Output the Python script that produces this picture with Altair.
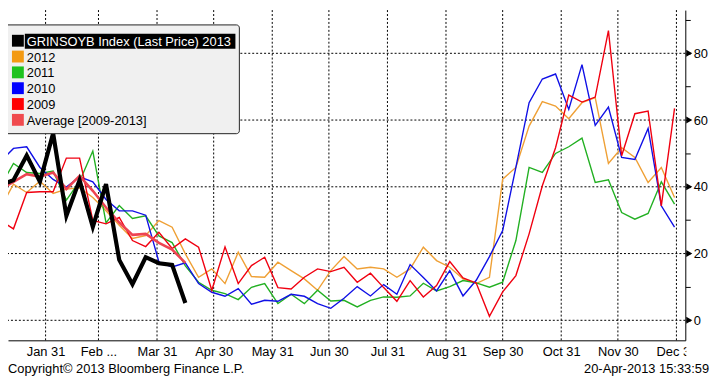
import json
import altair as alt
import pandas as pd

# ---------------- data ----------------
days = [7, 14, 21, 28, 35, 42, 49, 56, 63, 70, 77, 84, 91, 98, 105, 112, 119, 126,
        133, 140, 147, 154, 161, 168, 175, 182, 189, 196, 203, 210, 217, 224, 231,
        238, 245, 252, 259, 266, 273, 280, 287, 294, 301, 308, 315, 322, 329, 336,
        343, 350, 357, 364]

s2013 = [40.5, 42, 49.4, 41.5, 56, 31.3, 42, 28, 40.8, 18.1, 10.8, 18.9, 17.1, 16.6, 5.2]

s2012 = [33.5, 40.8, 38.3, 41.7, 38, 39.3, 39.7, 36.8, 32.8, 28.5, 24.5, 25.4, 29.9,
         27.9, 19.9, 12.9, 15.4, 11, 20.4, 13.1, 12.9, 17.4, 14.9, 12.4, 9, 14.9,
         19.1, 15.4, 15.9, 15.4, 12.9, 15.4, 21.9, 17.9, 15.9, 12.4, 11, 12.9, 42.3,
         45.8, 58.2, 65.5, 64.2, 60.4, 65.2, 66.7, 47, 51.7, 48.8, 41.3, 45.8, 36.8]

s2011 = [40, 47, 44.3, 44, 44.7, 36, 41.6, 50.7, 29.2, 34.4, 30.5, 31.3, 25.3, 23.3,
         16.3, 11.4, 9, 8, 6.2, 9.9, 11, 5, 7.8, 5, 9, 5.8, 6, 4, 6, 7, 6.9, 7.3,
         11.1, 8.8, 10.1, 11.9, 11.2, 9.9, 11.4, 23.9, 45.8, 44.3, 50, 52, 54.6,
         41.3, 42.1, 32.3, 30.3, 32, 41.5, 34.8]

s2010 = [47.5, 51.5, 52, 45.8, 42.2, 39.9, 43, 41.5, 36.2, 32.8, 32.8, 31.5, 17.5,
         16, 17.2, 11, 8.4, 7.2, 9.5, 4.8, 6, 5.7, 7.8, 7.2, 5, 3.6, 6.6, 10.1, 7.3,
         10.7, 7.8, 16.7, 12.8, 8.8, 14.9, 7.3, 12, 19.1, 26.9, 45.8, 65.2, 72.3,
         73.8, 63.2, 76.6, 58.4, 63.9, 48.8, 48.2, 57.5, 34.3, 27.9]

s2009 = [29.9, 27.4, 38.3, 38.5, 38.5, 48.6, 48.6, 29.9, 28.9, 30.8, 23.9, 22.1,
         26.4, 21.5, 24.4, 21.9, 9, 22, 11, 16.4, 18.9, 9.8, 9.4, 12.9, 15.4, 14.6,
         15.9, 11.4, 14.1, 9.8, 5.7, 11.9, 7, 10.4, 17.6, 12.7, 11.2, 1.2, 8.5, 13.4,
         25.9, 40.3, 51.7, 67.5, 65.4, 66.9, 86.8, 49.3, 61.9, 62.7, 34.3, 63.5]

s_avg = [39.2, 41.5, 43.8, 43, 44.3, 39.3, 43.3, 38.8, 33.8, 29.3, 25.6, 25.9, 23.2,
         21.2, 17.2]

legend_names = ["GRINSOYB Index (Last Price) 2013", "2012", "2011", "2010", "2009",
                "Average [2009-2013]"]
legend_colors = ["#000000", "#F39A12", "#1DC21D", "#0000FF", "#FF0000", "#F04A4E"]

x_tick_days = [31, 59, 90, 120, 151, 181, 212, 243, 273, 304, 334, 365]
x_tick_labels = ["Jan 31", "Feb ...", "Mar 31", "Apr 30", "May 31", "Jun 30",
                 "Jul 31", "Aug 31", "Sep 30", "Oct 31", "Nov 30", "Dec 31"]
y_major = [0, 20, 40, 60, 80]
y_minor = [10, 30, 50, 70, 90]

copyright_text = "Copyright\u00a9 2013 Bloomberg Finance L.P."
stamp_text = "20-Apr-2013 15:33:59"

# ---------------- chart ----------------
FONT = "Liberation Sans"
W, H = 685, 334

x_scale = alt.Scale(domain=[11.1, 369.7], nice=False, zero=False)
y_scale = alt.Scale(domain=[-6.0, 92.95], nice=False, zero=False)

label_expr = f"{json.dumps(x_tick_labels)}[indexof({json.dumps(x_tick_days)}, datum.value)]"

x_axis = alt.Axis(values=x_tick_days, labelExpr=label_expr, title=None, grid=False,
                  ticks=False, domain=True, domainColor="black", domainWidth=1,
                  labelFont=FONT, labelFontSize=13, labelColor="black",
                  labelPadding=5, labelFlush=False, labelOverlap=False)
y_axis = alt.Axis(orient="right", values=sorted(y_major + y_minor),
                  labelExpr="datum.value % 20 == 0 ? datum.label : ''",
                  title=None, grid=False, ticks=True, tickSize=5, tickColor="black",
                  domain=True, domainColor="black", domainWidth=1,
                  labelFont=FONT, labelFontSize=13, labelColor="black",
                  labelPadding=3, labelFlush=False, labelOverlap=False)


def X(field):
    return alt.X(f"{field}:Q", scale=x_scale, axis=x_axis)


def Y(field):
    return alt.Y(f"{field}:Q", scale=y_scale, axis=y_axis)


one = pd.DataFrame({"a": [0]})
layers = []

# gridlines
layers.append(alt.Chart(pd.DataFrame({"day": x_tick_days})).mark_rule(
    color="black", strokeDash=[2, 2], strokeWidth=1).encode(x=X("day")))
layers.append(alt.Chart(pd.DataFrame({"value": y_major})).mark_rule(
    color="black", strokeDash=[2, 2], strokeWidth=1).encode(y=Y("value")))

# series lines
series = [
    (s2012, "#EFA035", 1.4),
    (s2011, "#22B022", 1.4),
    (s2010, "#1010E6", 1.4),
    (s2009, "#F00010", 1.4),
    (s_avg, "#EE4452", 2.6),
    (s2013, "#000000", 4.2),
]
for vals, col, w in series:
    df = pd.DataFrame({"day": days[:len(vals)], "value": vals})
    layers.append(alt.Chart(df).mark_line(color=col, strokeWidth=w, clip=True,
                                          strokeJoin="miter").encode(
        x=X("day"), y=Y("value")))

# arrow ticks on the right axis
layers.append(alt.Chart(pd.DataFrame({"value": y_major})).mark_point(
    shape="triangle-right", filled=True, size=50, color="black", opacity=1).encode(
    x=alt.value(W + 4), y=Y("value")))

# legend box
layers.append(alt.Chart(one).mark_rect(fill="#F0F0F0", stroke="#222222", strokeWidth=1,
                                       cornerRadius=3).encode(
    x=alt.value(-5), x2=alt.value(234), y=alt.value(15), y2=alt.value(125)))
layers.append(alt.Chart(one).mark_rect(fill="black").encode(
    x=alt.value(17), x2=alt.value(230), y=alt.value(24), y2=alt.value(39)))
row_y = [31, 47, 63, 79, 95, 111]
for i, (name, col) in enumerate(zip(legend_names, legend_colors)):
    yc = row_y[i]
    layers.append(alt.Chart(one).mark_rect(fill=col).encode(
        x=alt.value(4), x2=alt.value(16), y=alt.value(yc - 6), y2=alt.value(yc + 6)))
    layers.append(alt.Chart(pd.DataFrame({"t": [name]})).mark_text(
        align="left", baseline="middle", font=FONT, fontSize=13,
        color="white" if i == 0 else "black").encode(
        text="t:N", x=alt.value(19), y=alt.value(yc + 1)))

# cover the overflow of the last x label past the right axis
layers.append(alt.Chart(one).mark_rect(fill="white").encode(
    x=alt.value(W + 1), x2=alt.value(W + 40), y=alt.value(H + 2), y2=alt.value(H + 22)))

# footer texts
layers.append(alt.Chart(pd.DataFrame({"t": [copyright_text]})).mark_text(
    align="left", baseline="middle", font=FONT, fontSize=13, color="black").encode(
    text="t:N", x=alt.value(0), y=alt.value(H + 29)))
layers.append(alt.Chart(pd.DataFrame({"t": [stamp_text]})).mark_text(
    align="right", baseline="middle", font=FONT, fontSize=13, color="black").encode(
    text="t:N", x=alt.value(W + 24), y=alt.value(H + 29)))

chart = alt.layer(*layers).properties(
    width=W, height=H,
    padding={"left": 0, "top": 0, "right": 27, "bottom": 37},
    autosize=alt.AutoSizeParams(type="none"),
    background="white",
).configure_view(strokeWidth=0)

chart.save("out.html", embed_options={"renderer": "svg", "actions": False})
